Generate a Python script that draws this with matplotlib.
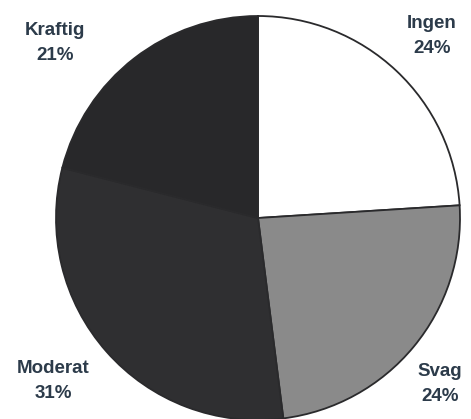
import matplotlib.pyplot as plt

labels = ["Ingen", "Svag", "Moderat", "Kraftig"]
shares = [24, 24, 31, 21]
colors = ["#ffffff", "#8a8a8a", "#2f2f31", "#28282a"]
# label positions in pixels (x, y from top)
label_pos = [(432, 36), (440, 384), (53, 381), (55, 43)]

fig = plt.figure(figsize=(4.71, 4.19), dpi=100)
ax = fig.add_axes([0, 0, 1, 1])
ax.pie(shares, colors=colors, startangle=90, counterclock=False,
       center=(258, 419 - 218), radius=202,
       wedgeprops=dict(edgecolor="#2a2a2c", linewidth=1.3))
ax.set_xlim(0, 471)
ax.set_ylim(0, 419)
ax.set_aspect("equal")
ax.axis("off")

for lab, val, (x, y) in zip(labels, shares, label_pos):
    ax.text(x, 419 - y, f"{lab}\n{val}%", ha="center", va="center",
            fontsize=13.5, fontweight="bold", family="Liberation Sans",
            color="#2c3b4a", linespacing=1.6)

fig.savefig("out.png", dpi=100)
